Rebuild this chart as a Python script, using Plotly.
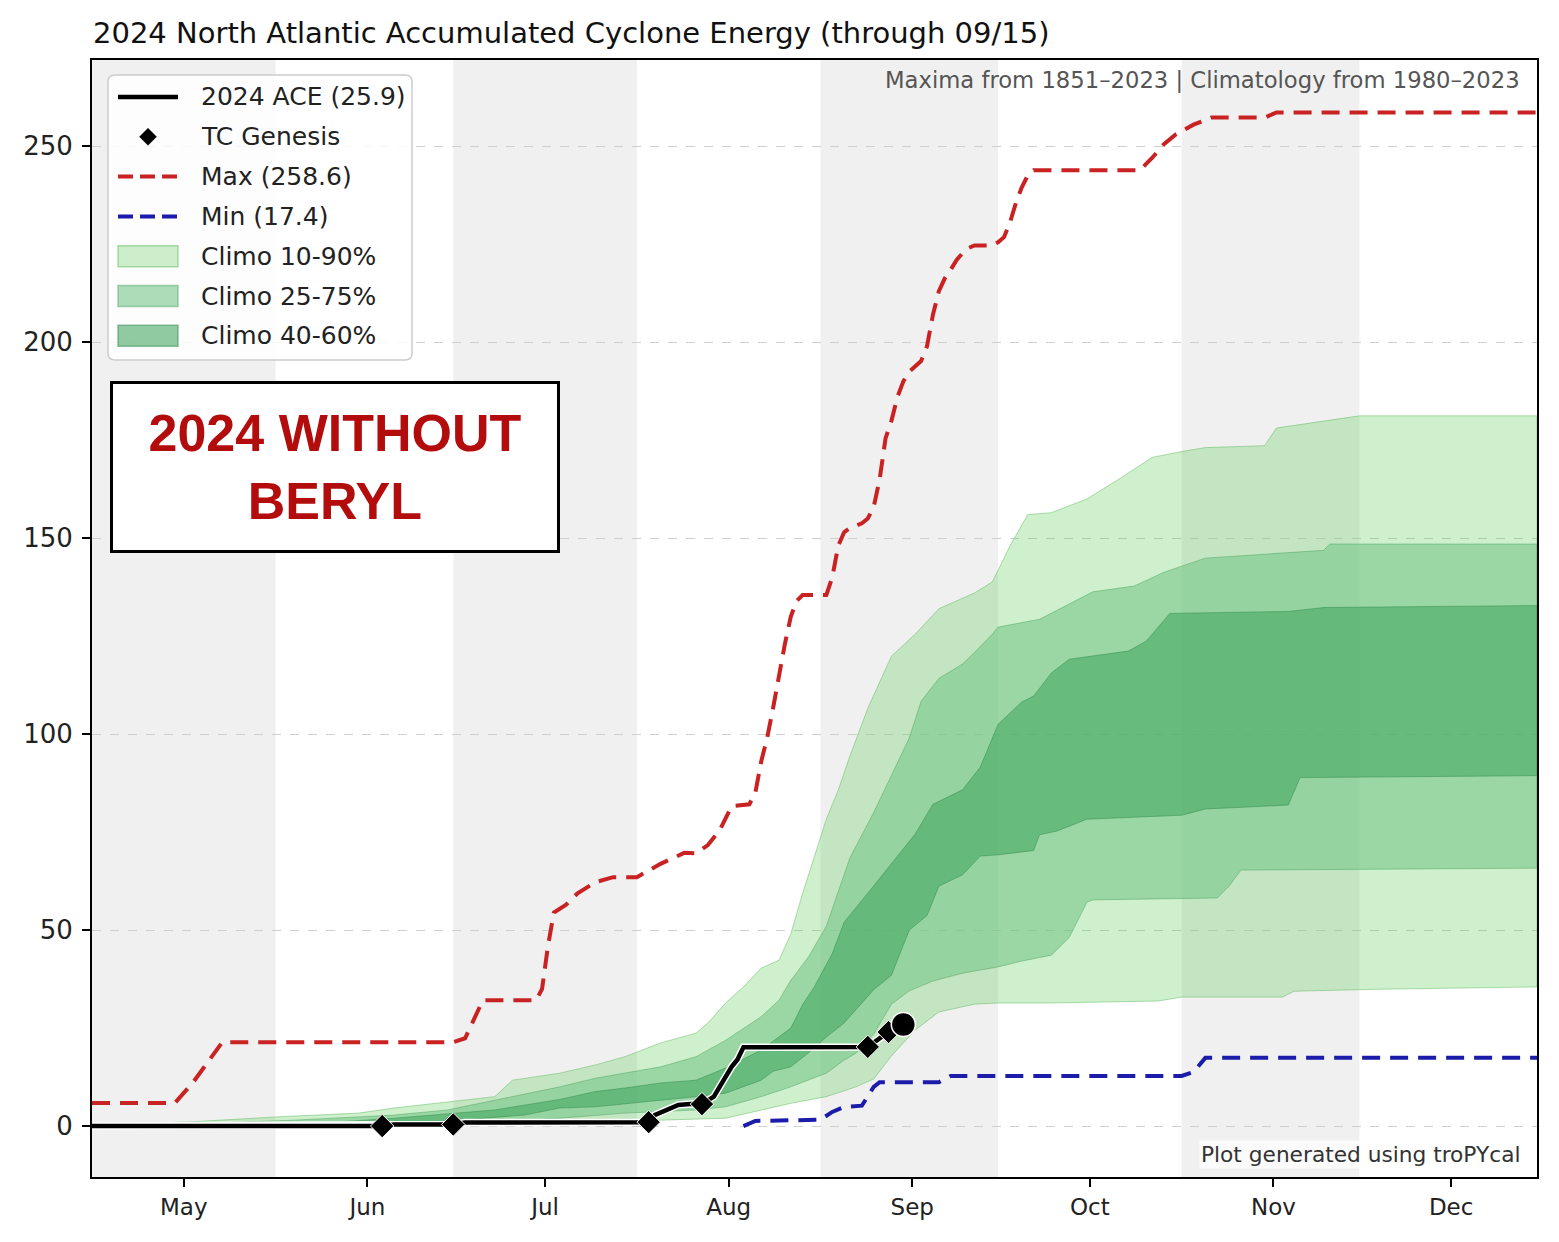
import plotly.graph_objects as go

YEAR = "2024"

# ---------------- data ----------------
# 2024 ACE (without Beryl)
ace_dates = ["05-01", "06-19", "06-21", "07-01", "07-03", "08-03", "08-04", "08-08", "08-10",
             "08-12", "08-14", "08-16", "08-17", "08-18", "08-19", "09-09", "09-11",
             "09-12 12:00", "09-15"]
ace_vals = [0.0, 0.0, 0.4, 0.4, 0.9, 1.0, 2.8, 5.4, 5.6,
            5.6, 7.5, 12.8, 15.1, 17.0, 20.1, 20.2, 22.2,
            24.0, 25.9]

# TC genesis points
genesis_dates = ["06-19", "07-01", "08-03", "08-12", "09-09", "09-12 12:00"]
genesis_vals = [0.0, 0.4, 1.0, 5.6, 20.2, 24.0]

# Maximum ACE (1851-2023)
max_dates = ["05-01", "05-15", "05-18", "05-21", "05-23", "07-01", "07-03", "07-06", "07-15",
             "07-16", "07-17", "07-18", "07-20", "07-22", "07-25", "07-28", "08-01", "08-05",
             "08-09", "08-11", "08-13", "08-15", "08-17", "08-20", "08-21", "08-22", "08-23",
             "08-24", "08-25", "08-26", "08-27", "08-28", "08-29", "09-02", "09-03", "09-04",
             "09-05", "09-06", "09-08", "09-09", "09-10", "09-11", "09-12", "09-13", "09-14",
             "09-15", "09-16", "09-17", "09-18", "09-19", "09-20", "09-21", "09-22", "09-23",
             "09-24", "09-25", "09-26", "09-27", "09-30", "10-01", "10-02", "10-03", "10-04",
             "10-05", "10-06", "10-07", "10-25", "10-26", "10-27", "10-29", "10-31", "11-03",
             "11-06", "11-15", "11-17", "12-31"]
max_vals = [5.9, 5.9, 11.0, 17.5, 21.4, 21.4, 22.4, 32.1, 32.1,
            35.0, 46.0, 54.5, 56.4, 59.4, 62.2, 63.5, 63.5, 66.9,
            69.7, 69.6, 71.7, 75.5, 81.6, 82.1, 85.0, 93.0, 99.0,
            106.6, 115.0, 123.0, 130.0, 134.0, 135.5, 135.5, 140.0, 148.0,
            151.5, 152.6, 153.8, 155.0, 158.0, 165.0, 175.5, 180.0, 186.0,
            190.0, 192.5, 194.0, 195.2, 199.0, 207.0, 213.0, 216.3, 218.5,
            221.0, 222.7, 224.0, 224.7, 224.7, 225.5, 226.8, 230.5, 235.5,
            239.5, 242.5, 243.9, 243.9, 245.5, 247.0, 250.5, 253.0, 255.5,
            257.3, 257.3, 258.6, 258.6]

# Minimum ACE
min_dates = ["08-19", "08-21", "09-01", "09-03", "09-05", "09-08", "09-10", "09-11",
             "09-21", "09-23", "11-01", "11-03", "11-05", "12-31"]
min_vals = [0.0, 1.3, 1.6, 3.6, 4.9, 5.2, 10.0, 11.2,
            11.2, 12.8, 12.8, 13.8, 17.4, 17.4]

# Climatology percentiles (1980-2023)
p90_dates = ["05-01", "05-18", "06-02", "06-15", "06-21", "06-30", "07-08", "07-11", "07-19",
             "07-25", "07-30", "08-05", "08-11", "08-13", "08-16", "08-19", "08-22", "08-25",
             "08-27", "08-29", "08-31", "09-02", "09-04", "09-06", "09-09", "09-11", "09-13",
             "09-17", "09-21", "09-27", "09-30", "10-01", "10-03", "10-06", "10-10", "10-16",
             "10-22", "10-27", "11-01", "11-05", "11-15", "11-17", "12-01", "12-31"]
p90_vals = [0.3, 1.1, 2.4, 3.3, 4.6, 6.2, 7.5, 11.7, 13.5,
            15.6, 17.7, 21.2, 23.7, 26.3, 31.4, 35.5, 40.3, 42.3,
            49.0, 59.4, 68.9, 78.3, 85.7, 94.5, 106.6, 113.3, 119.9,
            125.5, 132.0, 136.0, 138.8, 141.8, 148.0, 156.0, 156.5, 160.0,
            165.6, 170.6, 172.1, 173.1, 173.6, 178.1, 181.2, 181.2]

p75_dates = ["05-01", "05-19", "06-04", "06-21", "06-30", "07-08", "07-19", "07-25", "07-30",
             "08-05", "08-11", "08-16", "08-22", "08-25", "08-27", "08-30", "09-02", "09-04",
             "09-06", "09-10", "09-13", "09-16", "09-18", "09-21", "09-25", "09-27", "09-30",
             "10-01", "10-08", "10-17", "10-24", "10-29", "11-05", "11-25", "11-26", "12-31"]
p75_vals = [0.1, 0.6, 1.5, 2.8, 4.1, 6.6, 10.0, 12.2, 13.5,
            15.1, 17.7, 21.9, 27.9, 32.1, 37.2, 43.2, 51.0, 60.0,
            68.5, 80.0, 89.5, 99.0, 108.4, 114.2, 117.9, 120.8, 125.5,
            127.3, 129.3, 136.3, 137.8, 141.3, 144.9, 146.9, 148.5, 148.5]

p60_dates = ["05-01", "06-05", "06-21", "07-02", "07-08", "07-19", "07-25", "07-30", "08-05",
             "08-11", "08-16", "08-22", "08-24", "08-27", "08-29", "08-31", "09-03", "09-05",
             "09-09", "09-13", "09-17", "09-20", "09-25", "09-28", "10-01", "10-05", "10-07",
             "10-10", "10-13", "10-23", "10-26", "10-30", "11-19", "11-25", "12-31"]
p60_vals = [0.0, 0.4, 2.0, 3.3, 4.1, 6.8, 8.8, 9.7, 11.0,
            11.7, 14.8, 19.4, 21.6, 25.0, 31.0, 35.6, 44.0, 52.0,
            59.4, 66.9, 74.5, 82.1, 85.8, 91.6, 102.5, 108.2, 109.7,
            115.6, 119.1, 121.2, 123.7, 130.8, 131.3, 132.3, 132.8]

p40_dates = ["05-01", "06-22", "07-02", "07-13", "07-19", "07-25", "07-30", "08-05", "08-11",
             "08-16", "08-22", "08-24", "08-27", "08-30", "09-02", "09-05", "09-10", "09-13",
             "09-16", "09-19", "09-21", "09-25", "09-28", "10-01", "10-07", "10-08", "10-11",
             "10-16", "11-01", "11-05", "11-19", "11-21", "12-31"]
p40_vals = [0.0, 0.3, 1.5, 2.8, 4.6, 4.9, 5.8, 6.6, 7.5,
            8.4, 11.7, 14.0, 15.1, 18.7, 22.7, 26.3, 34.8, 38.5,
            50.0, 53.7, 61.2, 64.1, 68.9, 69.2, 70.3, 74.3, 75.3,
            78.3, 79.3, 80.9, 81.9, 88.9, 89.4]

p25_dates = ["05-01", "07-02", "07-19", "07-30", "08-11", "08-16", "08-22", "08-27", "09-02",
             "09-05", "09-07", "09-10", "09-13", "09-16", "09-20", "09-25", "10-01", "10-05",
             "10-10", "10-13", "10-16", "10-17", "11-07", "11-09", "11-11", "12-31"]
p25_vals = [0.0, 0.3, 2.0, 3.3, 4.1, 4.9, 7.5, 10.0, 13.5,
            16.8, 18.6, 23.5, 31.1, 34.5, 37.0, 39.0, 40.6, 42.1,
            43.6, 48.1, 57.1, 57.7, 58.2, 61.2, 65.3, 65.8]

p10_dates = ["05-01", "06-05", "07-19", "08-05", "08-16", "08-22", "08-27", "09-02", "09-07",
             "09-10", "09-13", "09-17", "09-21", "09-27", "10-01", "10-10", "10-28", "11-01",
             "11-18", "11-20", "12-04", "12-31"]
p10_vals = [0.0, 0.2, 1.1, 1.5, 2.0, 4.1, 5.8, 7.5, 10.0,
            12.0, 17.9, 24.5, 29.1, 31.1, 31.4, 31.4, 31.9, 32.9,
            32.9, 34.4, 34.9, 35.5]

# axis ticks and month shading
tick_dates = ["05-16 12:00", "06-16 12:00", "07-16 12:00", "08-16 12:00",
              "09-16 12:00", "10-16 12:00", "11-16 12:00", "12-16 12:00"]
tick_labels = ["May", "Jun", "Jul", "Aug", "Sep", "Oct", "Nov", "Dec"]
shade_starts = ["05-01", "07-01", "09-01", "11-01"]
shade_ends = ["06-01", "08-01", "10-01", "12-01"]
y_ticks = [0, 50, 100, 150, 200, 250]

# ---------------- styling ----------------
FONT = "DejaVu Sans, Liberation Sans, Arial, sans-serif"
RED, BLUE = "#c92222", "#1c1cab"
DASH = "18px,10px"
BAND_FILLS = ["rgba(96,206,86,0.30)", "rgba(118,198,138,0.60)", "rgba(70,168,98,0.60)"]
BAND_LINES = ["rgba(80,180,80,0.45)", "rgba(70,160,90,0.45)", "rgba(50,140,75,0.5)"]

W, H = 1559, 1242
L, R, T, B = 92, 22, 60, 65
PW, PH = W - L - R, H - T - B


def dt(lst):
    return [f"{YEAR}-{s}" for s in lst]


def px(x):  # pixel x -> paper fraction
    return (x - L) / PW


def py(y):  # pixel y -> paper fraction
    return (H - B - y) / PH


fig = go.Figure()

bands = [(p90_dates, p90_vals, p10_dates, p10_vals),
         (p75_dates, p75_vals, p25_dates, p25_vals),
         (p60_dates, p60_vals, p40_dates, p40_vals)]
for (ud, uv, ld, lv), fc, lc in zip(bands, BAND_FILLS, BAND_LINES):
    fig.add_trace(go.Scatter(
        x=dt(ud) + dt(ld)[::-1], y=list(uv) + list(lv)[::-1],
        fill="toself", fillcolor=fc, mode="lines", line=dict(color=lc, width=1),
        showlegend=False, hoverinfo="skip"))

fig.add_trace(go.Scatter(x=dt(max_dates), y=max_vals, mode="lines",
                         line=dict(color=RED, width=4, dash=DASH), showlegend=False))
fig.add_trace(go.Scatter(x=dt(min_dates), y=min_vals, mode="lines",
                         line=dict(color=BLUE, width=4, dash=DASH), showlegend=False))
fig.add_trace(go.Scatter(x=dt(ace_dates), y=ace_vals, mode="lines",
                         line=dict(color="white", width=7.5), showlegend=False,
                         hoverinfo="skip"))
fig.add_trace(go.Scatter(x=dt(ace_dates), y=ace_vals, mode="lines",
                         line=dict(color="black", width=4.5), showlegend=False))
fig.add_trace(go.Scatter(x=dt(genesis_dates), y=genesis_vals, mode="markers",
                         marker=dict(symbol="diamond", size=18, color="black",
                                     line=dict(color="white", width=1)),
                         showlegend=False))
fig.add_trace(go.Scatter(x=dt(ace_dates[-1:]), y=ace_vals[-1:], mode="markers",
                         marker=dict(symbol="circle", size=24, color="black",
                                     line=dict(color="white", width=1.5)),
                         showlegend=False))

# month shading
shapes = [dict(type="rect", xref="x", yref="paper", x0=f"{YEAR}-{a}", x1=f"{YEAR}-{b}",
               y0=0, y1=1, fillcolor="#f0f0f0", line=dict(width=0), layer="below")
          for a, b in zip(shade_starts, shade_ends)]

# ---------------- legend (drawn) ----------------
legend_labels = [f"2024 ACE ({ace_vals[-1]:.1f})", "TC Genesis",
                 f"Max ({max_vals[-1]:.1f})", f"Min ({min_vals[-1]:.1f})",
                 "Climo 10-90%", "Climo 25-75%", "Climo 40-60%"]
bx0, by0, bx1, by1, rr = 108, 75, 412, 360, 7


def rpath(x0, y0, x1, y1, r):
    pts = [("M", x0 + r, y0), ("L", x1 - r, y0), ("Q", x1, y0, x1, y0 + r),
           ("L", x1, y1 - r), ("Q", x1, y1, x1 - r, y1), ("L", x0 + r, y1),
           ("Q", x0, y1, x0, y1 - r), ("L", x0, y0 + r), ("Q", x0, y0, x0 + r, y0)]
    s = ""
    for p in pts:
        if p[0] == "Q":
            s += f"Q{px(p[1])},{py(p[2])} {px(p[3])},{py(p[4])} "
        else:
            s += f"{p[0]}{px(p[1])},{py(p[2])} "
    return s + "Z"


shapes.append(dict(type="path", xref="paper", yref="paper", path=rpath(bx0, by0, bx1, by1, rr),
                   fillcolor="rgba(255,255,255,0.82)", line=dict(color="#cccccc", width=1.5),
                   layer="above"))
row_y = [97 + 39.8 * i for i in range(len(legend_labels))]
sx0, sx1, sxc = 118, 178, 148
shapes.append(dict(type="line", xref="paper", yref="paper", x0=px(sx0), x1=px(sx1),
                   y0=py(row_y[0]), y1=py(row_y[0]), line=dict(color="black", width=4.5),
                   layer="above"))
d = 8.5
shapes.append(dict(type="path", xref="paper", yref="paper",
                   path=(f"M{px(sxc)},{py(row_y[1]-d)} L{px(sxc+d)},{py(row_y[1])} "
                         f"L{px(sxc)},{py(row_y[1]+d)} L{px(sxc-d)},{py(row_y[1])} Z"),
                   fillcolor="black", line=dict(color="black", width=0.5), layer="above"))
for yy, col in ((row_y[2], RED), (row_y[3], BLUE)):
    shapes.append(dict(type="line", xref="paper", yref="paper", x0=px(sx0), x1=px(sx1),
                       y0=py(yy), y1=py(yy), line=dict(color=col, width=4, dash="15px,7px"),
                       layer="above"))
for yy, fc, lc in zip(row_y[4:], BAND_FILLS, BAND_LINES):
    shapes.append(dict(type="rect", xref="paper", yref="paper", x0=px(sx0), x1=px(sx1),
                       y0=py(yy + 10.5), y1=py(yy - 10.5), fillcolor=fc,
                       line=dict(color=lc, width=1.5), layer="above"))

annotations = [dict(text=lab, xref="paper", yref="paper", x=px(199), y=py(yy),
                    xanchor="left", yanchor="middle", showarrow=False,
                    font=dict(family=FONT, size=25, color="#222222"))
               for lab, yy in zip(legend_labels, row_y)]

annotations += [
    dict(text="<b>2024 WITHOUT<br>BERYL</b>", xref="paper", yref="paper",
         x=px(335), y=py(467), xanchor="center", yanchor="middle", showarrow=False,
         align="center",
         font=dict(family="Liberation Sans, Arial, sans-serif", size=52, color="#b30c0c"),
         bgcolor="white", bordercolor="black", borderwidth=3, borderpad=0,
         width=444, height=166),
    dict(text="Maxima from 1851\u20132023 | Climatology from 1980\u20132023",
         xref="paper", yref="paper", x=px(1522), y=py(80), xanchor="right",
         yanchor="middle", showarrow=False,
         font=dict(family=FONT, size=22.7, color="#555555")),
    dict(text="Plot generated using troPYcal",
         xref="paper", yref="paper", x=px(1522), y=py(1154), xanchor="right",
         yanchor="middle", showarrow=False, bgcolor="rgba(255,255,255,0.75)",
         font=dict(family=FONT, size=21.7, color="#333333")),
]

fig.update_layout(
    width=W, height=H, autosize=False,
    margin=dict(l=L, r=R, t=T, b=B),
    paper_bgcolor="white", plot_bgcolor="white",
    font=dict(family=FONT, color="#222222"),
    title=dict(text="2024 North Atlantic Accumulated Cyclone Energy (through 09/15)",
               x=93 / W, xref="container", xanchor="left",
               y=1 - 33 / H, yref="container", yanchor="middle",
               font=dict(family=FONT, size=29, color="#111111")),
    shapes=shapes,
    annotations=annotations,
    showlegend=False,
    xaxis=dict(type="date", range=[f"{YEAR}-05-01", f"{YEAR}-12-31"],
               tickvals=dt(tick_dates), ticktext=tick_labels,
               ticks="outside", ticklen=8, tickwidth=1.5, tickcolor="black",
               showgrid=False, zeroline=False,
               showline=True, mirror=True, linecolor="black", linewidth=2,
               tickfont=dict(family=FONT, size=23, color="#222222")),
    yaxis=dict(range=[-13, 272], tickvals=y_ticks,
               ticks="outside", ticklen=8, tickwidth=1.5, tickcolor="black",
               ticklabelstandoff=4,
               showgrid=True, gridcolor="#cfcfcf", gridwidth=1, griddash="dash",
               zeroline=False,
               showline=True, mirror=True, linecolor="black", linewidth=2,
               tickfont=dict(family=FONT, size=26, color="#222222")),
)

fig.write_html("out.html", config={"displayModeBar": False},
               post_script="document.body.style.margin='0px';")
